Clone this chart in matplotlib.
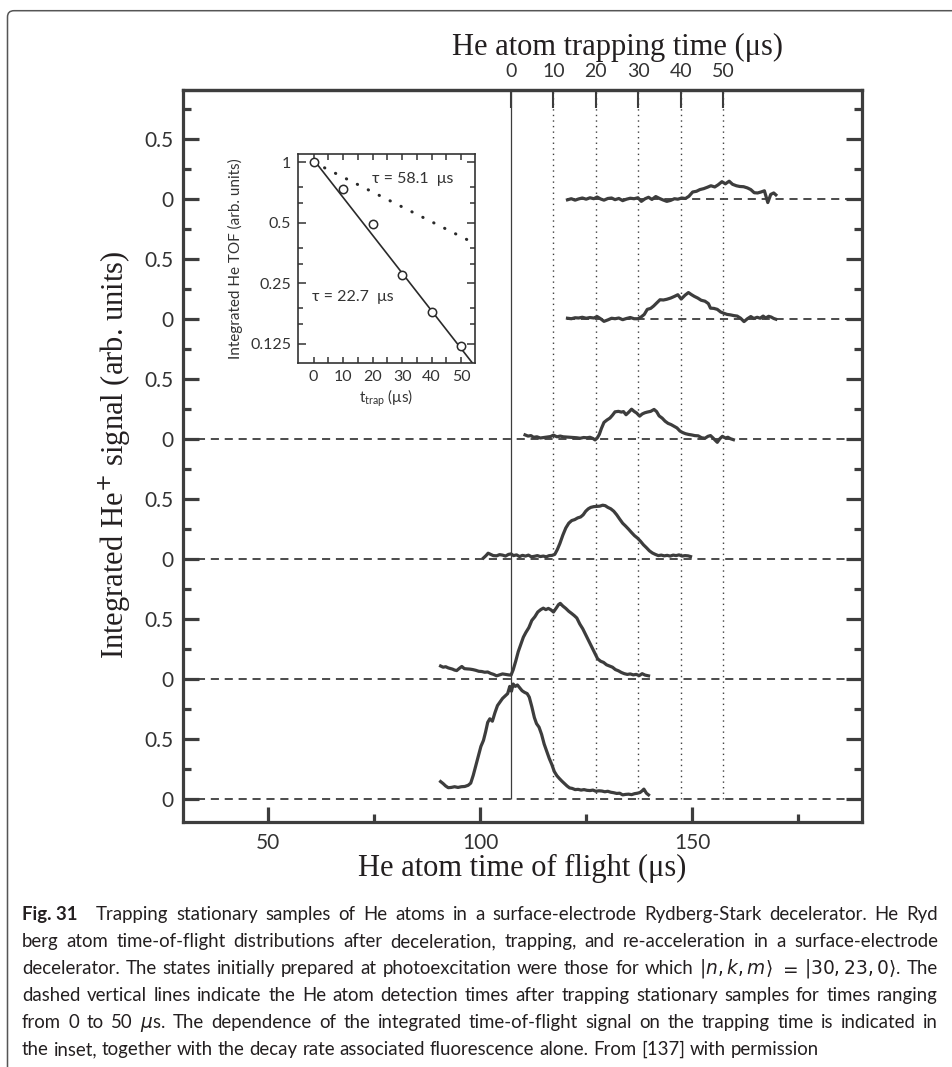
import numpy as np
import matplotlib.pyplot as plt
from matplotlib.ticker import FixedLocator, NullFormatter
from matplotlib.path import Path
from matplotlib.patches import PathPatch

W, H = 953, 1067
sans = ['Lato', 'DejaVu Sans']
serif = ['Liberation Serif', 'DejaVu Serif']
ink = '#3d3d3d'
text_ink = '#231f20'

plt.rcParams['font.family'] = sans
plt.rcParams['mathtext.fontset'] = 'dejavusans'

# time of flight that corresponds to zero trapping time (us)
t0 = 107.3
trap_ticks = [0, 10, 20, 30, 40, 50]

# TOF traces as (time of flight, signal) pairs,
# bottom (trapped 0 us) to top (trapped 50 us)
trace_0 = [(90.7, 0.147), (91.3, 0.130), (91.9, 0.110), (92.5, 0.096), (93.2, 0.098), (94.0, 0.104),
           (94.8, 0.098), (95.6, 0.104), (96.4, 0.106), (97.2, 0.116), (97.8, 0.134), (98.4, 0.200),
           (99.0, 0.280), (99.6, 0.360), (100.2, 0.440), (100.8, 0.490), (101.3, 0.560), (101.8, 0.640),
           (102.3, 0.670), (102.9, 0.650), (103.5, 0.720), (104.1, 0.780), (104.7, 0.810), (105.3, 0.840),
           (105.9, 0.860), (106.5, 0.880), (107.0, 0.940), (107.4, 0.900), (107.8, 0.960), (108.3, 0.940),
           (108.8, 0.952), (109.3, 0.930), (109.9, 0.904), (110.5, 0.890), (111.1, 0.880), (111.6, 0.850),
           (112.2, 0.770), (112.8, 0.680), (113.3, 0.630), (113.9, 0.600), (114.5, 0.540), (115.1, 0.460),
           (115.7, 0.400), (116.3, 0.340), (116.9, 0.290), (117.5, 0.230), (118.1, 0.196), (118.7, 0.172),
           (119.3, 0.150), (119.9, 0.130), (120.5, 0.110), (121.1, 0.094), (121.7, 0.090), (122.4, 0.080),
           (123.1, 0.082), (123.8, 0.076), (124.5, 0.080), (125.2, 0.074), (125.9, 0.072), (126.6, 0.076),
           (127.3, 0.066), (128.0, 0.070), (128.7, 0.068), (129.4, 0.062), (130.1, 0.066), (130.8, 0.058),
           (131.5, 0.054), (132.2, 0.048), (132.9, 0.050), (133.6, 0.036), (134.3, 0.040), (135.0, 0.042),
           (135.7, 0.038), (136.4, 0.046), (137.1, 0.050), (137.7, 0.056), (138.2, 0.070), (138.6, 0.084),
           (139.2, 0.050), (139.7, 0.036)]

trace_1 = [(90.7, 0.110), (91.3, 0.100), (91.9, 0.104), (92.5, 0.094), (92.9, 0.090), (93.5, 0.084),
           (94.0, 0.076), (94.5, 0.072), (95.1, 0.090), (95.7, 0.106), (96.3, 0.088), (96.9, 0.086),
           (97.6, 0.084), (98.3, 0.080), (99.0, 0.074), (99.7, 0.066), (100.4, 0.064), (101.1, 0.058),
           (101.8, 0.060), (102.5, 0.048), (103.2, 0.040), (103.9, 0.028), (104.6, 0.036), (105.3, 0.044),
           (106.0, 0.040), (106.7, 0.036), (107.3, 0.034), (107.8, 0.078), (108.4, 0.150), (109.0, 0.230),
           (109.6, 0.290), (110.2, 0.350), (110.8, 0.390), (111.5, 0.430), (112.2, 0.490), (112.9, 0.520),
           (113.6, 0.560), (114.3, 0.580), (114.9, 0.592), (115.5, 0.580), (116.1, 0.590), (116.7, 0.578),
           (117.3, 0.560), (117.9, 0.590), (118.5, 0.622), (118.9, 0.632), (119.5, 0.610), (120.2, 0.590),
           (120.9, 0.566), (121.5, 0.550), (122.2, 0.530), (122.8, 0.510), (123.5, 0.460), (124.2, 0.420),
           (124.9, 0.370), (125.6, 0.320), (126.3, 0.270), (127.0, 0.220), (127.7, 0.170), (128.4, 0.150),
           (129.1, 0.140), (129.8, 0.120), (130.5, 0.110), (131.2, 0.100), (131.9, 0.080), (132.6, 0.070),
           (133.3, 0.056), (134.0, 0.046), (134.7, 0.040), (135.4, 0.044), (136.1, 0.036), (136.8, 0.040),
           (137.5, 0.030), (138.2, 0.046), (138.9, 0.034), (139.7, 0.028)]

trace_2 = [(100.8, 0.010), (101.4, 0.030), (101.9, 0.050), (102.5, 0.040), (103.1, 0.030), (103.9, 0.028),
           (104.6, 0.038), (105.3, 0.034), (106.0, 0.026), (106.7, 0.040), (107.3, 0.044), (107.9, 0.030),
           (108.6, 0.036), (109.3, 0.022), (110.0, 0.032), (110.7, 0.026), (111.4, 0.034), (112.1, 0.020),
           (112.8, 0.024), (113.5, 0.030), (114.2, 0.022), (114.9, 0.026), (115.6, 0.020), (116.3, 0.030),
           (117.0, 0.032), (117.6, 0.040), (118.2, 0.080), (118.8, 0.130), (119.5, 0.200), (120.2, 0.260),
           (120.9, 0.300), (121.6, 0.322), (122.3, 0.330), (123.0, 0.344), (123.7, 0.352), (124.3, 0.370),
           (124.9, 0.400), (125.5, 0.420), (126.1, 0.432), (126.8, 0.438), (127.5, 0.440), (128.2, 0.442),
           (128.9, 0.450), (129.5, 0.446), (130.1, 0.432), (130.8, 0.420), (131.5, 0.400), (132.2, 0.370),
           (132.9, 0.334), (133.6, 0.300), (134.3, 0.276), (135.0, 0.250), (135.7, 0.222), (136.4, 0.196),
           (137.1, 0.176), (137.8, 0.150), (138.5, 0.120), (139.2, 0.096), (139.9, 0.070), (140.6, 0.052),
           (141.3, 0.040), (142.0, 0.030), (142.7, 0.034), (143.4, 0.028), (144.1, 0.032), (144.8, 0.026),
           (145.5, 0.034), (146.2, 0.030), (146.9, 0.036), (147.6, 0.026), (148.3, 0.030), (149.0, 0.028),
           (149.6, 0.022)]

trace_3 = [(110.6, 0.036), (111.3, 0.026), (112.0, 0.030), (112.6, 0.016), (113.4, 0.020), (114.2, 0.010),
           (115.0, 0.014), (115.8, 0.018), (116.6, 0.022), (117.3, 0.034), (118.1, 0.020), (118.9, 0.026),
           (119.6, 0.020), (120.4, 0.018), (121.2, 0.016), (122.0, 0.014), (122.8, 0.012), (123.6, 0.008),
           (124.4, 0.014), (125.2, 0.012), (125.9, 0.016), (126.6, 0.006), (127.1, -0.006), (127.6, 0.010),
           (128.1, 0.040), (128.6, 0.090), (129.2, 0.140), (129.9, 0.160), (130.6, 0.176), (131.2, 0.200),
           (131.8, 0.228), (132.6, 0.232), (133.3, 0.226), (133.8, 0.230), (134.4, 0.204), (135.0, 0.224),
           (135.7, 0.250), (136.3, 0.232), (136.9, 0.218), (137.6, 0.192), (138.2, 0.210), (138.8, 0.220),
           (139.4, 0.226), (140.2, 0.232), (141.0, 0.248), (141.6, 0.230), (142.2, 0.194), (142.9, 0.176),
           (143.6, 0.150), (144.3, 0.132), (145.0, 0.122), (145.7, 0.108), (146.4, 0.094), (147.1, 0.068),
           (147.7, 0.056), (148.4, 0.046), (149.1, 0.040), (149.8, 0.036), (150.6, 0.030), (151.4, 0.028),
           (152.2, 0.012), (153.0, 0.008), (153.7, 0.024), (154.3, 0.030), (154.9, 0.010), (155.5, -0.012),
           (155.9, -0.026), (156.5, 0.004), (157.1, 0.024), (157.8, 0.010), (158.4, 0.016), (159.0, 0.004),
           (159.7, -0.004)]

trace_4 = [(120.6, 0.008), (121.5, 0.004), (122.4, 0.012), (123.2, 0.010), (124.1, 0.016), (125.0, 0.008),
           (125.9, 0.014), (126.8, 0.010), (127.6, 0.022), (128.4, 0.004), (129.2, -0.018), (130.1, -0.006),
           (131.0, 0.008), (131.8, 0.004), (132.7, 0.010), (133.6, -0.004), (134.5, 0.006), (135.4, 0.014),
           (136.3, 0.004), (137.2, 0.004), (138.0, 0.020), (138.7, 0.040), (139.4, 0.082), (140.2, 0.090),
           (140.9, 0.110), (141.7, 0.138), (142.4, 0.162), (143.2, 0.160), (144.0, 0.166), (144.9, 0.176),
           (145.8, 0.190), (146.6, 0.204), (147.4, 0.168), (148.3, 0.200), (149.1, 0.222), (149.8, 0.205),
           (150.5, 0.190), (151.3, 0.176), (152.1, 0.158), (153.0, 0.150), (153.8, 0.130), (154.3, 0.092),
           (155.1, 0.090), (155.9, 0.082), (156.7, 0.060), (157.4, 0.050), (158.2, 0.040), (159.0, 0.036),
           (159.8, 0.030), (160.6, 0.026), (161.4, 0.008), (162.2, -0.020), (163.0, 0.004), (163.8, 0.022),
           (164.5, 0.006), (165.3, 0.016), (166.0, 0.008), (166.7, 0.026), (167.3, 0.010), (168.0, 0.024),
           (168.6, 0.018), (169.2, 0.006), (169.7, 0.000)]

trace_5 = [(120.6, -0.005), (121.5, 0.004), (122.4, -0.008), (123.2, 0.002), (124.1, 0.010), (125.0, 0.000),
           (125.9, 0.012), (126.8, 0.004), (127.6, 0.018), (128.4, 0.002), (129.2, -0.008), (130.1, 0.006),
           (131.0, 0.010), (131.8, -0.004), (132.7, 0.006), (133.6, -0.012), (134.5, 0.000), (135.4, 0.008),
           (136.3, 0.004), (137.2, 0.012), (138.0, -0.018), (138.9, 0.004), (139.7, 0.016), (140.5, -0.002),
           (141.4, 0.022), (142.3, 0.006), (143.1, -0.006), (144.0, -0.018), (144.9, -0.010), (145.8, 0.004),
           (146.6, 0.000), (147.5, 0.010), (148.4, 0.006), (149.2, 0.024), (150.1, 0.060), (151.0, 0.066),
           (151.8, 0.080), (152.7, 0.088), (153.6, 0.100), (154.4, 0.112), (155.3, 0.102), (156.1, 0.120),
           (157.0, 0.146), (157.8, 0.128), (158.7, 0.150), (159.5, 0.124), (160.4, 0.112), (161.2, 0.106),
           (162.1, 0.104), (163.0, 0.094), (163.8, 0.080), (164.6, 0.054), (165.4, 0.052), (166.2, 0.060),
           (167.0, 0.070), (167.8, -0.028), (168.5, 0.040), (169.2, 0.052), (169.7, 0.036)]

traces = [trace_0, trace_1, trace_2, trace_3, trace_4, trace_5]

ytick_pos = [0, 0.5, 1, 1.5, 2, 2.5, 3, 3.5, 4, 4.5, 5, 5.5]
ytick_lab = ['0', '0.5'] * 6
ytick_minor = [0.25, 0.75, 1.25, 1.75, 2.25, 2.75, 3.25, 3.75, 4.25, 4.75, 5.25, 5.75]

# inset: integrated TOF signal versus trapping time
inset_t = [0, 10, 20, 30, 40, 50]
inset_sig = [1.0, 0.732, 0.495, 0.273, 0.180, 0.121]
fast_t, fast_y = [0, 55], [1.03, 0.095]      # tau = 22.7 us
slow_t, slow_y = [0, 53], [1.0, 0.405]       # tau = 58.1 us
inset_yticks = [0.125, 0.25, 0.5, 1]
inset_ylabels = ['0.125', '0.25', '0.5', '1']
inset_yminor = [0.15625, 0.1875, 0.3125, 0.375, 0.625, 0.75]

caption_head = 'Fig. 31'
caption_lines = [
    'Trapping stationary samples of He atoms in a surface-electrode Rydberg-Stark decelerator. He Ryd',
    'berg atom time-of-flight distributions after deceleration, trapping, and re-acceleration in a surface-electrode',
    r'decelerator. The states initially prepared at photoexcitation were those for which $|n,k,m\rangle$ $=$ $|30,23,0\rangle$. The',
    'dashed vertical lines indicate the He atom detection times after trapping stationary samples for times ranging',
    r'from 0 to 50 $\mu$s. The dependence of the integrated time-of-flight signal on the trapping time is indicated in',
    'the inset, together with the decay rate associated fluorescence alone. From [137] with permission',
]


def fx(px):
    return px / W


def fy(py):
    return 1 - py / H


fig = plt.figure(figsize=(W / 100, H / 100), dpi=100)

# main axes
L, R, T, B = 183, 862, 90, 822
ax = fig.add_axes([fx(L), fy(B), (R - L) / W, (B - T) / H])
ax.set_xlim(30, 190)
ax.set_ylim(-0.19, 5.91)


def ay(py):
    return (B - py) / (B - T)


ax.vlines(t0, 0, 5.91, color=ink, lw=0.9, zorder=1)
ax.vlines([t0 + t for t in trap_ticks[1:]], 0, 5.91, color=ink, lw=1.0,
          linestyles=(0, (1, 3)), zorder=1)

for k, trace in enumerate(traces):
    tof, sig = zip(*trace)
    x_start = 30 if k < 4 else tof[0]
    ax.plot([x_start, 190], [k, k], color=ink, lw=1.3, ls=(0, (4.5, 3.2)), zorder=1)
    ax.plot(tof, np.array(sig) + k, color=ink, lw=2.3, zorder=3,
            solid_joinstyle='round')

for s in ax.spines.values():
    s.set_linewidth(2.3)
    s.set_color(ink)

ax.set_xticks([50, 100, 150])
ax.set_xticks([75, 125, 175], minor=True)
ax.set_yticks(ytick_pos)
ax.set_yticklabels(ytick_lab)
ax.yaxis.set_minor_locator(FixedLocator(ytick_minor))
ax.tick_params(axis='both', which='both', direction='in', color=ink, width=2.3,
               labelsize=15, labelcolor='#333333', top=False)
ax.tick_params(axis='y', which='both', right=True, labelright=False)
ax.tick_params(axis='y', which='major', length=11.5, pad=7)
ax.tick_params(axis='y', which='minor', length=5.5)
ax.tick_params(axis='x', which='major', length=11, pad=8)
ax.tick_params(axis='x', which='minor', length=5.5)

ax.set_xlabel('He atom time of flight (μs)', family=serif, fontsize=22, color=text_ink)
ax.xaxis.set_label_coords(0.5, ay(854))
ax.set_ylabel('Integrated He$^{+}$ signal (arb. units)', family=serif, fontsize=22,
              color=text_ink)
ax.yaxis.set_label_coords((133 - L) / (R - L), ay(455))

sec = ax.secondary_xaxis('top', functions=(lambda x: x - t0, lambda t: t + t0))
sec.set_xticks(trap_ticks)
sec.tick_params(direction='in', length=13, width=1.5, color=ink, labelsize=14,
                labelcolor='#333333', pad=7)
sec.spines['top'].set_linewidth(2.3)
sec.spines['top'].set_color(ink)
sec.set_xlabel('He atom trapping time (μs)', family=serif, fontsize=22, color=text_ink,
               labelpad=6)
sec.xaxis.label.set_x((618 - L) / (R - L))

# inset
iL, iR, iT, iB = 298, 475, 154, 363
ins = fig.add_axes([fx(iL), fy(iB), (iR - iL) / W, (iB - iT) / H])
ins.set_facecolor('white')
ins.set_yscale('log', base=2)
ins.set_xlim(-5.3, 54.7)
ins.set_ylim(0.1, 1.1)
ins.plot(fast_t, fast_y, color='#2a2a2a', lw=1.2)
ins.plot(slow_t, slow_y, color='#2a2a2a', lw=2.2, ls=(0, (0.1, 3.9)),
         dash_capstyle='round')
ins.plot(inset_t, inset_sig, 'o', ms=6, mfc='white', mec='#2a2a2a', mew=1.1)
ins.set_xticks(trap_ticks)
ins.set_xticks([5, 15, 25, 35, 45], minor=True)
ins.yaxis.set_major_locator(FixedLocator(inset_yticks))
ins.set_yticklabels(inset_ylabels)
ins.yaxis.set_minor_locator(FixedLocator(inset_yminor))
ins.yaxis.set_minor_formatter(NullFormatter())
ins.tick_params(which='both', direction='in', top=True, right=True, color='#333333',
                width=1.1, labelsize=11.5, labelcolor='#333333')
ins.tick_params(axis='x', which='both', length=4.5, pad=5)
ins.tick_params(axis='y', which='major', length=6, pad=5)
ins.tick_params(axis='y', which='minor', length=3.8)
for s in ins.spines.values():
    s.set_linewidth(1.2)
    s.set_color('#333333')
ins.set_xlabel(r'$\mathregular{t_{trap}}$ (μs)', fontsize=11, color='#333333', labelpad=3)
ins.set_ylabel('Integrated He TOF (arb. units)', fontsize=11, color='#333333', labelpad=5)
ins.text(19.8, 0.827, 'τ = 58.1  μs', fontsize=11.5, color='#333333', va='center')
ins.text(-0.5, 0.213, 'τ = 22.7  μs', fontsize=11.5, color='#333333', va='center')

# page frame with a rounded top-left corner
pts = [(7.5, 1067), (7.5, 17), (7.5, 10.7), (14, 10.7), (953, 10.7)]
frame = Path([(fx(a), fy(b)) for a, b in pts],
             [Path.MOVETO, Path.LINETO, Path.CURVE3, Path.CURVE3, Path.LINETO])
fig.add_artist(PathPatch(frame, transform=fig.transFigure, fill=False,
                         edgecolor='#555555', lw=1.1))

# caption, justified word by word
r = fig.canvas.get_renderer()
cx0, cx1 = 22, 938
base_y = 920
dy = 27


def natural_width(s, fs, weight='normal'):
    t = fig.text(0, 0, s, fontsize=fs, weight=weight)
    w = t.get_window_extent(r).width
    t.remove()
    return w


nat = [natural_width(caption_head + '  ' + caption_lines[0], 12)]
nat += [natural_width(s, 12) for s in caption_lines[1:5]]
fs = 12 * (cx1 - cx0) * 0.985 / max(nat)
space = natural_width('a a', fs) - natural_width('aa', fs)

for i, line in enumerate(caption_lines):
    words = line.split(' ')
    items = [(w, 'normal') for w in words]
    weights = [1] * (len(words) - 1)
    if i == 0:
        items = [(caption_head, 'bold')] + items
        weights = [2.4] + weights
    arts = [fig.text(0, fy(base_y + i * dy), w, fontsize=fs, weight=wt,
                     va='baseline', color=text_ink) for w, wt in items]
    widths = [a.get_window_extent(r).width for a in arts]
    if i < 5:
        gap = (cx1 - cx0 - sum(widths)) / sum(weights)
    else:
        gap = space
    x = cx0
    for j, a in enumerate(arts):
        a.set_x(fx(x))
        x += widths[j]
        if j < len(weights):
            x += gap * weights[j]

fig.savefig('out.png', dpi=100)
